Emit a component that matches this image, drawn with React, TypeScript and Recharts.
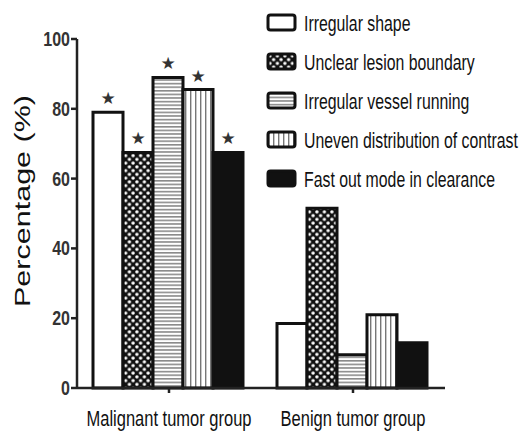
import { BarChart, Bar, XAxis, YAxis } from 'recharts';

const groups = ['Malignant tumor group', 'Benign tumor group'];
const irregularShape = [79, 18.5];
const unclearBoundary = [67.5, 51.5];
const irregularVessel = [89, 9.5];
const unevenContrast = [85.5, 21];
const fastOut = [67.5, 13];
const significant = [true, false];
const yTicks = [0, 20, 40, 60, 80, 100];

const series = [
  { key: 'shape', name: 'Irregular shape', values: irregularShape, fill: '#ffffff' },
  { key: 'boundary', name: 'Unclear lesion boundary', values: unclearBoundary, fill: 'url(#dots)' },
  { key: 'vessel', name: 'Irregular vessel running', values: irregularVessel, fill: 'url(#hlines)' },
  { key: 'contrast', name: 'Uneven distribution of contrast', values: unevenContrast, fill: 'url(#vlines)' },
  { key: 'clearance', name: 'Fast out mode in clearance', values: fastOut, fill: '#111111' },
];

const data = groups.map((g, i) => {
  const row: Record<string, string | number> = { group: g };
  series.forEach((s) => {
    row[s.key] = s.values[i];
  });
  return row;
});

// no narrow font installed, so squeeze Liberation Sans
const FONT = '"Liberation Sans", Arial, sans-serif';
const NARROW = 0.75;

function Patterns() {
  return (
    <defs>
      <pattern id="dots" patternUnits="userSpaceOnUse" width={7.5} height={7.5}>
        <rect width={7.5} height={7.5} fill="#111" />
        <circle cx={1.9} cy={1.9} r={1.7} fill="#fff" />
        <circle cx={5.6} cy={5.6} r={1.7} fill="#fff" />
      </pattern>
      <pattern id="hlines" patternUnits="userSpaceOnUse" width={4} height={3.6}>
        <rect width={4} height={3.6} fill="#fff" />
        <rect width={4} height={1.6} fill="#8a8a8a" />
      </pattern>
      <pattern id="vlines" patternUnits="userSpaceOnUse" width={5} height={4}>
        <rect width={5} height={4} fill="#fff" />
        <rect width={1.4} height={4} fill="#777" />
      </pattern>
    </defs>
  );
}

function renderStar(props: any) {
  const { x, y, width, index } = props;
  if (!significant[index]) return null;
  return (
    <text x={x + width / 2} y={y - 8} textAnchor="middle" fontSize={17} fill="#333" fontFamily="DejaVu Sans">
      ★
    </text>
  );
}

function XTick(props: any) {
  const { x, y, payload } = props;
  return (
    <text
      transform={`translate(${x}, ${y + 31}) scale(${NARROW}, 1)`}
      textAnchor="middle"
      fontSize={22}
      fontFamily={FONT}
      fill="#111"
    >
      {payload.value}
    </text>
  );
}

function YTick(props: any) {
  const { x, y, payload } = props;
  return (
    <text
      transform={`translate(${x}, ${y + 7}) scale(0.8, 1)`}
      textAnchor="end"
      fontSize={20}
      fontWeight="bold"
      fontFamily={FONT}
      fill="#333"
    >
      {payload.value}
    </text>
  );
}

function YLabel() {
  return (
    <text
      transform="translate(30, 201) rotate(-90) scale(1.42, 1)"
      textAnchor="middle"
      fontSize={21.5}
      fontFamily={FONT}
      fill="#111"
    >
      Percentage (%)
    </text>
  );
}

function LegendBox() {
  return (
    <svg width={264} height={200} style={{ position: 'absolute', left: 262, top: 0 }}>
      {series.map((s, i) => (
        <g key={s.key} transform={`translate(6, ${i * 39 + 15})`}>
          <rect x={0} y={0} width={27} height={15} rx={2.5} fill={s.fill} stroke="#111" strokeWidth={3} />
          <text transform={`translate(36, 16) scale(0.72, 1)`} fontSize={22} fontFamily={FONT} fill="#111">
            {s.name}
          </text>
        </g>
      ))}
    </svg>
  );
}

export default function App() {
  return (
    <div style={{ position: 'absolute', left: 0, top: 0, width: 526, height: 431, background: '#fff' }}>
      <svg width={0} height={0} style={{ position: 'absolute' }}>
        <Patterns />
      </svg>
      <BarChart
        width={526}
        height={431}
        data={data}
        margin={{ top: 39, right: 81, left: 0, bottom: 0 }}
        barCategoryGap={16}
        barGap={0}
      >
        <XAxis
          dataKey="group"
          height={43}
          stroke="#222"
          strokeWidth={2.5}
          tickSize={5}
          tick={<XTick />}
        />
        <YAxis
          width={77}
          domain={[0, 100]}
          ticks={yTicks}
          stroke="#222"
          strokeWidth={2.5}
          tickSize={6}
          tickMargin={1}
          tick={<YTick />}
          label={<YLabel />}
        />
        {series.map((s) => (
          <Bar
            key={s.key}
            dataKey={s.key}
            name={s.name}
            fill={s.fill}
            stroke="#111"
            strokeWidth={3}
            isAnimationActive={false}
            label={renderStar}
          />
        ))}
      </BarChart>
      <LegendBox />
    </div>
  );
}
